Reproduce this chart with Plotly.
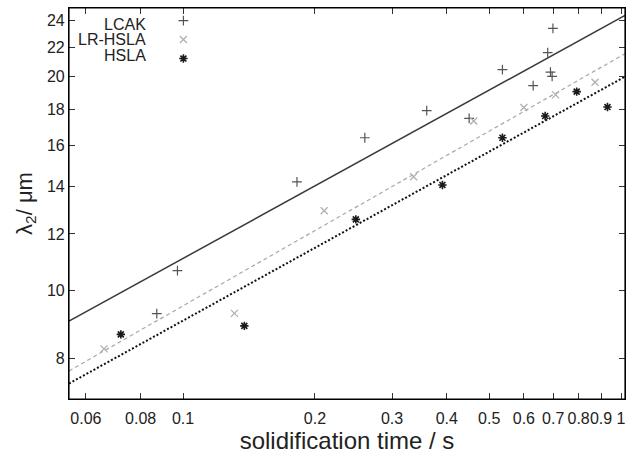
import plotly.graph_objects as go

# ---- data ----
lcak_t = [0.0871, 0.0971, 0.182, 0.260, 0.360, 0.450, 0.536, 0.630, 0.680, 0.690, 0.696, 0.699]
lcak_l = [9.26, 10.65, 14.21, 16.40, 17.91, 17.47, 20.46, 19.43, 21.62, 20.30, 20.02, 23.40]

lrhsla_t = [0.0660, 0.131, 0.210, 0.336, 0.461, 0.600, 0.709, 0.872]
lrhsla_l = [8.26, 9.27, 12.94, 14.45, 17.32, 18.09, 18.85, 19.64]

hsla_t = [0.0721, 0.138, 0.248, 0.391, 0.536, 0.671, 0.792, 0.931]
hsla_l = [8.66, 8.90, 12.58, 14.07, 16.40, 17.60, 19.05, 18.12]

# fit lines (end points read at the axis limits)
fit_t = [0.0549, 1.021]
fit_lcak = [9.04, 24.4]
fit_lrhsla = [7.69, 21.55]
fit_hsla = [7.38, 20.0]

x_ticks = [0.06, 0.08, 0.1, 0.2, 0.3, 0.4, 0.5, 0.6, 0.7, 0.8, 0.9, 1]
x_ticktext = ["0.06", "0.08", "0.1", "0.2", "0.3", "0.4", "0.5", "0.6", "0.7", "0.8", "0.9", "1"]
y_ticks = [8, 10, 12, 14, 16, 18, 20, 22, 24]
legend_names = ["LCAK", "LR-HSLA", "HSLA"]

FONT = "Liberation Sans, Arial, Helvetica, sans-serif"
TXT = "#222222"

fig = go.Figure()

# fit lines
fig.add_trace(go.Scatter(x=fit_t, y=fit_lcak, mode="lines", showlegend=False,
                         line=dict(color="#3a3a3a", width=1.5)))
fig.add_trace(go.Scatter(x=fit_t, y=fit_lrhsla, mode="lines", showlegend=False,
                         line=dict(color="#a8a8a8", width=1.2, dash="4px,3px")))
fig.add_trace(go.Scatter(x=fit_t, y=fit_hsla, mode="lines", showlegend=False,
                         line=dict(color="#111111", width=2, dash="2px,2px")))

# data points (legend entries carry only the symbol; names are drawn as annotations)
fig.add_trace(go.Scatter(x=lcak_t, y=lcak_l, mode="markers", name=" ",
                         marker=dict(symbol="cross-thin-open", size=7, color="#555555",
                                     line=dict(color="#555555", width=1.2))))
fig.add_trace(go.Scatter(x=lrhsla_t, y=lrhsla_l, mode="markers", name=" ",
                         marker=dict(symbol="x-thin-open", size=7, color="#b0b0b0",
                                     line=dict(color="#b0b0b0", width=1.3))))
fig.add_trace(go.Scatter(x=hsla_t, y=hsla_l, mode="markers", name=" ",
                         marker=dict(symbol="asterisk-open", size=7, color="#1a1a1a",
                                     line=dict(color="#1a1a1a", width=1.6))))

axis_common = dict(
    type="log", showgrid=False, zeroline=False,
    showline=True, linecolor="black", linewidth=1.2, mirror="ticks",
    ticks="inside", ticklen=6, tickwidth=1, tickcolor="#333333",
    tickangle=0, ticklabeloverflow="allow",
    tickfont=dict(family=FONT, size=16, color=TXT),
)

fig.update_xaxes(**axis_common,
                 range=[-1.2604, 0.0090],
                 tickvals=x_ticks, ticktext=x_ticktext,
                 ticklabelstandoff=5,
                 title=dict(text="solidification time / s",
                            font=dict(family=FONT, size=24, color=TXT),
                            standoff=5))
fig.update_yaxes(**axis_common,
                 range=[0.8463, 1.3979],
                 tickvals=y_ticks, ticktext=[str(v) for v in y_ticks],
                 title=dict(text="λ<sub>2</sub>/ μm",
                            font=dict(family=FONT, size=22, color=TXT),
                            standoff=8))

annotations = []
legend_rows = [0.9578, 0.9182, 0.8785]
for name, yy in zip(legend_names, legend_rows):
    annotations.append(dict(text=name, x=0.1426, y=yy, xref="paper", yref="paper",
                            xanchor="right", yanchor="middle", showarrow=False,
                            font=dict(family=FONT, size=16, color=TXT)))

fig.update_layout(
    width=627, height=457,
    margin=dict(l=69, r=2, t=8, b=58),
    paper_bgcolor="white", plot_bgcolor="white",
    showlegend=True,
    legend=dict(x=0.1698, y=1.005, xanchor="left", yanchor="top",
                bgcolor="rgba(0,0,0,0)", font=dict(size=11),
                itemwidth=30, tracegroupgap=0),
    annotations=annotations,
    shapes=[dict(type="rect", xref="paper", yref="paper", x0=0, x1=1, y0=0, y1=1,
                 line=dict(color="black", width=1.2), layer="above")],
)

# remove the default page margin so the figure sits at the window's top-left corner
fig.write_html("out.html",
               config={"displayModeBar": False},
               post_script="document.body.style.margin='0';document.body.style.overflow='hidden';")
